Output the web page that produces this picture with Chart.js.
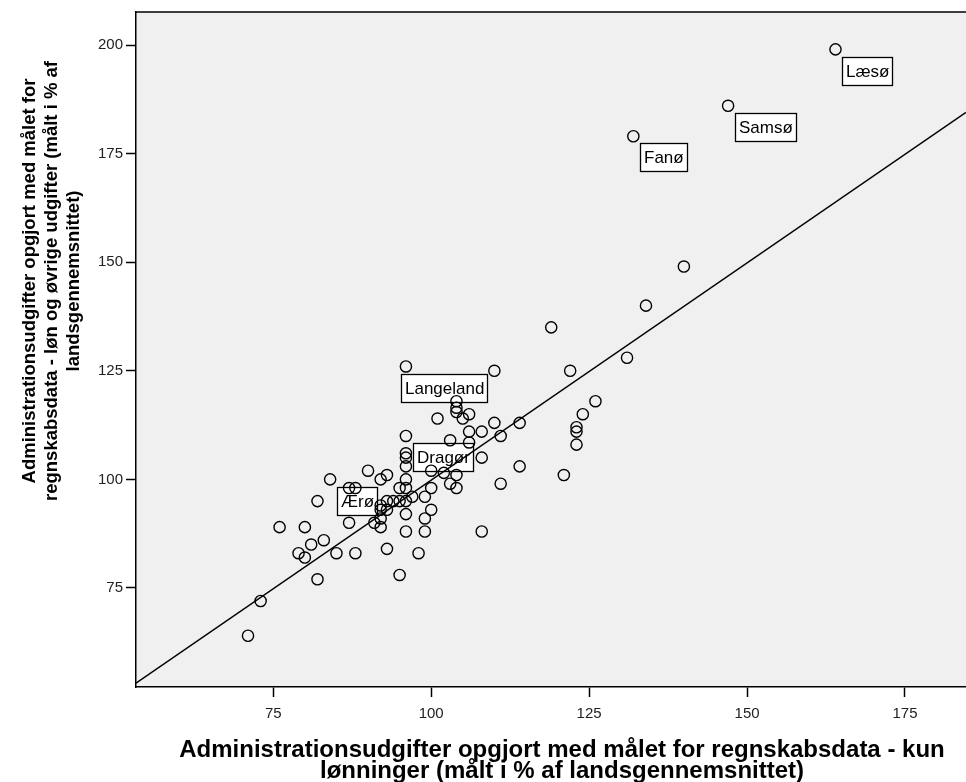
<!DOCTYPE html>
<html>
<head>
<meta charset="utf-8">
<script src="https://cdn.jsdelivr.net/npm/chart.js@4/dist/chart.umd.min.js"></script>
<style>
  html, body { margin: 0; padding: 0; background: #ffffff; }
  #wrap { width: 966px; height: 782px; }
</style>
</head>
<body>
<div id="wrap"><canvas id="c" width="966" height="782"></canvas></div>
<script>
// Municipal administration costs, % of national average.
// x: wages only (regnskabsdata), y: wages + other costs.
// The first six entries are the labelled municipalities.
const labelNames = ['Læsø', 'Samsø', 'Fanø', 'Langeland', 'Dragør', 'Ærø'];

const wageOnly = [
  164, 147, 132, 96, 96, 84,
  140, 134, 119, 131, 122, 110, 126, 124, 123, 123, 123, 121, 114, 114,
  111, 111, 110, 108, 108, 108, 106, 106, 106, 105, 104, 104, 104, 104,
  104, 103, 103, 102, 101, 100, 100, 100, 99, 99, 99, 98, 97, 96, 96,
  96, 96, 96, 96, 96, 96, 95, 95, 95, 94, 93, 93, 93, 93, 92, 92, 92,
  92, 92, 91, 90, 88, 88, 87, 87, 85, 83, 82, 82, 81, 80, 80, 79, 76,
  73, 71
];

const wagesAndOther = [
  199, 186, 179, 126, 110, 100,
  149, 140, 135, 128, 125, 125, 118, 115, 112, 111, 108, 101, 113, 103,
  110, 99, 113, 111, 105, 88, 115, 111, 108.5, 114, 118, 116.5, 115.5, 101,
  98, 109, 99, 101.5, 114, 102, 98, 93, 96, 91, 88, 83, 96, 106, 105,
  103, 100, 98, 95, 92, 88, 98, 95, 78, 95, 101, 95, 93, 84, 100, 94,
  93, 91, 89, 90, 102, 98, 83, 98, 90, 83, 86, 95, 77, 85, 89, 82, 83, 89,
  72, 64
];

// Fitted line, end points at the edges of the plotted range
const fitX = [53.27, 184.66];
const fitY = [53.1, 184.5];

const xTicks = [75, 100, 125, 150, 175];
const yTicks = [75, 100, 125, 150, 175, 200];

const xTitle = [
  'Administrationsudgifter opgjort med målet for regnskabsdata - kun',
  'lønninger (målt i % af landsgennemsnittet)'
];
const yTitle = [
  'Administrationsudgifter opgjort med målet for',
  'regnskabsdata - løn og øvrige udgifter (målt i % af',
  'landsgennemsnittet)'
];

// Where each name box sits relative to its point (pixels)
const labelBoxOffset = [[7, 8], [7, 7], [7, 7], [-5, 8], [7, 7], [7, 8]];

const points = wageOnly.map((x, i) => ({ x: x, y: wagesAndOther[i] }));
const fitLine = fitX.map((x, i) => ({ x: x, y: fitY[i] }));

const FONT = '"Liberation Sans", Arial, sans-serif';

// Grey plotting field with a frame on the top edge
const plotBackground = {
  id: 'plotBackground',
  beforeDraw(chart) {
    const { ctx, chartArea: a } = chart;
    ctx.save();
    ctx.fillStyle = '#f0f0f0';
    ctx.fillRect(a.left, a.top, a.right - a.left, a.bottom - a.top);
    ctx.strokeStyle = '#000';
    ctx.lineWidth = 1.5;
    ctx.beginPath();
    ctx.moveTo(a.left, a.top);
    ctx.lineTo(a.right, a.top);
    ctx.stroke();
    ctx.restore();
  }
};

// Boxed names next to the labelled points
const pointLabels = {
  id: 'pointLabels',
  beforeDatasetsDraw(chart) {
    const { ctx, scales } = chart;
    ctx.save();
    ctx.font = '17px ' + FONT;
    ctx.textBaseline = 'middle';
    ctx.textAlign = 'left';
    labelNames.forEach((name, i) => {
      const px = scales.x.getPixelForValue(wageOnly[i]);
      const py = scales.y.getPixelForValue(wagesAndOther[i]);
      const w = Math.round(ctx.measureText(name).width + 7);
      const h = 28;
      const bx = Math.round(px + labelBoxOffset[i][0]) + 0.5;
      const by = Math.round(py + labelBoxOffset[i][1]) + 0.5;
      ctx.fillStyle = '#fff';
      ctx.fillRect(bx, by, w, h);
      ctx.strokeStyle = '#000';
      ctx.lineWidth = 1.3;
      ctx.strokeRect(bx, by, w, h);
      ctx.fillStyle = '#000';
      ctx.fillText(name, bx + 3.5, by + h / 2 + 1);
    });
    ctx.restore();
  }
};

// Axis titles
const axisTitles = {
  id: 'axisTitles',
  afterDraw(chart) {
    const { ctx } = chart;
    ctx.save();
    ctx.fillStyle = '#000';
    ctx.textAlign = 'center';
    ctx.textBaseline = 'alphabetic';
    ctx.font = 'bold 24px ' + FONT;
    ctx.fillText(xTitle[0], 562, 757);
    ctx.fillText(xTitle[1], 562, 778);

    ctx.rotate(-Math.PI / 2);
    ctx.font = 'bold 18.5px ' + FONT;
    const cy = 281;
    ctx.fillText(yTitle[0], -cy, 35);
    ctx.fillText(yTitle[1], -cy, 57);
    ctx.fillText(yTitle[2], -cy, 79);
    ctx.restore();
  }
};

new Chart(document.getElementById('c'), {
  type: 'scatter',
  data: {
    datasets: [
      {
        data: points,
        pointStyle: 'circle',
        pointRadius: 5.6,
        pointHoverRadius: 5.6,
        pointBorderWidth: 1.4,
        pointBorderColor: '#000',
        pointBackgroundColor: 'rgba(0,0,0,0)',
        showLine: false
      },
      {
        type: 'line',
        data: fitLine,
        borderColor: '#000',
        borderWidth: 1.4,
        pointRadius: 0,
        fill: false
      }
    ]
  },
  options: {
    responsive: false,
    animation: false,
    devicePixelRatio: 1,
    layout: { autoPadding: false, padding: { top: 12, right: 0, left: 0, bottom: 0 } },
    plugins: {
      legend: { display: false },
      tooltip: { enabled: false },
      title: { display: false }
    },
    scales: {
      x: {
        type: 'linear',
        min: 53.27,
        max: 184.66,
        afterFit(s) { s.height = 95; s.paddingLeft = 0; s.paddingRight = 0; },
        afterBuildTicks(s) { s.ticks = xTicks.map(v => ({ value: v })); },
        grid: { drawOnChartArea: false, drawTicks: true, tickLength: 10, tickColor: '#000', tickWidth: 1.5 },
        border: { display: true, color: '#000', width: 1.5 },
        ticks: { color: '#222', font: { family: FONT, size: 15 }, padding: 8, maxRotation: 0 }
      },
      y: {
        type: 'linear',
        min: 52.2,
        max: 207.6,
        afterFit(s) { s.width = 136; s.paddingTop = 0; s.paddingBottom = 0; },
        afterBuildTicks(s) { s.ticks = yTicks.map(v => ({ value: v })); },
        grid: { drawOnChartArea: false, drawTicks: true, tickLength: 10, tickColor: '#000', tickWidth: 1.5 },
        border: { display: true, color: '#000', width: 1.5 },
        ticks: { color: '#222', font: { family: FONT, size: 15 }, padding: 3 }
      }
    }
  },
  plugins: [plotBackground, pointLabels, axisTitles]
});
</script>
</body>
</html>
